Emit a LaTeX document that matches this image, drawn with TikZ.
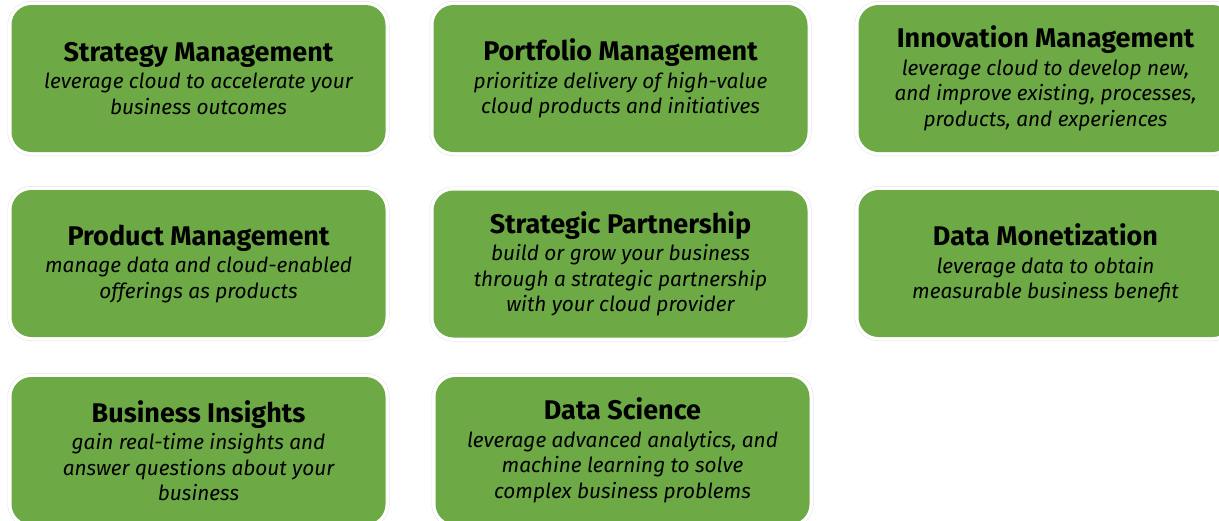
\documentclass[tikz,border=0pt]{standalone}
\usepackage{fontspec}
\setmainfont{Fira Sans}
\definecolor{boxgreen}{HTML}{6DAA46}
\definecolor{halo}{HTML}{E2E2E2}
\tikzset{
  card/.style={
    preaction={draw=halo, line width=8pt},
    preaction={draw=white, line width=7pt},
    fill=boxgreen, draw=none, rounded corners=20pt,
    minimum width=374pt, minimum height=147pt,
    align=center, inner sep=0pt, text=black,
    font=\fontsize{20.8}{25.5}\selectfont\itshape
  }
}
\newcommand{\cardtitle}[1]{{\upshape\bfseries\fontsize{27}{29}\selectfont #1}\\[2pt]}
\begin{document}
\begin{tikzpicture}[x=1pt,y=-1pt]
\useasboundingbox (0,0) rectangle (1219,520);
\clip (0,0) rectangle (1219,520);
\node[card] (strat) at (198.5,78.5) {\cardtitle{Strategy Management}leverage cloud to accelerate your\\business outcomes};
\node[card] (port) at (620.5,78.5) {\cardtitle{Portfolio Management}prioritize delivery of high-value\\cloud products and initiatives};
\node[card] (innov) at (1045.5,78.5) {\cardtitle{Innovation Management}leverage cloud to develop new,\\and improve existing, processes,\\products, and experiences};
\node[card] (prod) at (198.5,263.5) {\cardtitle{Product Management}manage data and cloud-enabled\\offerings as products};
\node[card] (partner) at (620.5,264) {\cardtitle{Strategic Partnership}build or grow your business\\through a strategic partnership\\with your cloud provider};
\node[card] (monet) at (1045.5,263.5) {\cardtitle{Data Monetization}leverage data to obtain\\measurable business benefit};
\node[card] (insight) at (198.5,450.5) {\cardtitle{Business Insights}gain real-time insights and\\answer questions about your\\business};
\node[card] (science) at (622.5,450.5) {\cardtitle{Data Science}leverage advanced analytics, and\\machine learning to solve\\complex business problems};
\end{tikzpicture}
\end{document}
